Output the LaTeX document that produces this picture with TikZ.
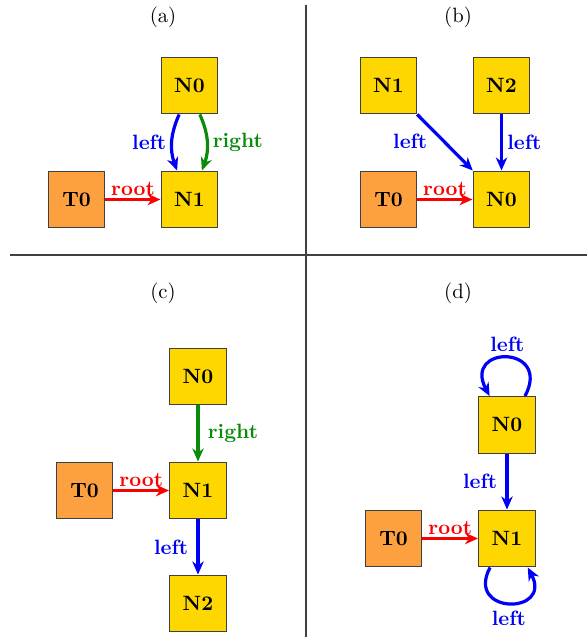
\documentclass[tikz,border=0pt]{standalone}
\usetikzlibrary{arrows.meta}
\definecolor{nodeyellow}{RGB}{255,215,0}
\definecolor{termorange}{RGB}{253,160,64}
\definecolor{edgegreen}{RGB}{10,140,10}
\definecolor{edgeblue}{RGB}{0,0,245}
\definecolor{edgered}{RGB}{250,0,0}
\begin{document}
\begin{tikzpicture}[x=0.483pt,y=-0.483pt,
  cell/.style={draw=black!75,line width=0.5pt,minimum size=27.5pt,inner sep=0pt,font=\bfseries},
  heap/.style={cell,fill=nodeyellow},
  term/.style={cell,fill=termorange},
  link/.style={line width=1.55pt,-{Stealth[length=6.3pt,width=5.5pt,inset=2pt]}},
  lbl/.style={font=\bfseries,inner sep=2pt},
  divider/.style={black!75,line width=0.6pt}]
\useasboundingbox (0,0) rectangle (587,637);

% quadrant separators
\draw[divider] (306,5) -- (306,637);
\draw[divider] (10,255) -- (587,255);

% panel captions
\node (capa) at (163,17) {(a)};
\node (capb) at (458,17) {(b)};
\node (capc) at (163,293) {(c)};
\node (capd) at (458,293) {(d)};

% (a)
\node[heap] (a0) at (189.5,85.5) {N0};
\node[heap] (a1) at (189.5,199.5) {N1};
\node[term] (at) at (76.5,199.5) {T0};
\draw[link,edgeblue] ([xshift=-5pt]a0.south) to[bend right=22]
  node[lbl,left,text=edgeblue] {left} ([xshift=-6pt]a1.north);
\draw[link,edgegreen] ([xshift=5pt]a0.south) to[bend left=22]
  node[lbl,right,text=edgegreen] {right} ([xshift=6pt]a1.north);
\draw[link,edgered] (at) -- node[lbl,above,text=edgered,inner sep=1pt] {root} (a1);

% (b)
\node[heap] (b1) at (388.5,85.5) {N1};
\node[heap] (b2) at (501.5,85.5) {N2};
\node[term] (bt) at (388.5,199.5) {T0};
\node[heap] (b0) at (501.5,199.5) {N0};
\draw[link,edgeblue] (b1) -- node[lbl,left,text=edgeblue,pos=0.47,xshift=-5pt] {left} (b0);
\draw[link,edgeblue] (b2) -- node[lbl,right,text=edgeblue] {left} (b0);
\draw[link,edgered] (bt) -- node[lbl,above,text=edgered,inner sep=1pt] {root} (b0);

% (c)
\node[heap] (c0) at (198,376.5) {N0};
\node[heap] (c1) at (198,490.5) {N1};
\node[heap] (c2) at (198,603.5) {N2};
\node[term] (ct) at (84.5,490.5) {T0};
\draw[link,edgegreen] (c0) -- node[lbl,right,text=edgegreen,xshift=2pt] {right} (c1);
\draw[link,edgeblue] (c1) -- node[lbl,left,text=edgeblue,xshift=-2pt] {left} (c2);
\draw[link,edgered] (ct) -- node[lbl,above,text=edgered,inner sep=1pt] {root} (c1);

% (d)
\node[heap] (d0) at (507,425) {N0};
\node[heap] (d1) at (507,538.5) {N1};
\node[term] (dt) at (393.5,538.5) {T0};
\draw[link,edgeblue] ([xshift=8.7pt]d0.north) .. controls +(62:28pt) and +(118:28pt) ..
  node[lbl,above,text=edgeblue,pos=0.5] {left} ([xshift=-8.4pt]d0.north);
\draw[link,edgeblue] (d0) -- node[lbl,left,text=edgeblue,xshift=-2pt] {left} (d1);
\draw[link,edgeblue] ([xshift=-8.2pt]d1.south) .. controls +(-118:26pt) and +(-62:26pt) ..
  node[lbl,below,text=edgeblue,pos=0.5,yshift=-1pt] {left} ([xshift=10pt]d1.south);
\draw[link,edgered] (dt) -- node[lbl,above,text=edgered,inner sep=1pt] {root} (d1);
\end{tikzpicture}
\end{document}
